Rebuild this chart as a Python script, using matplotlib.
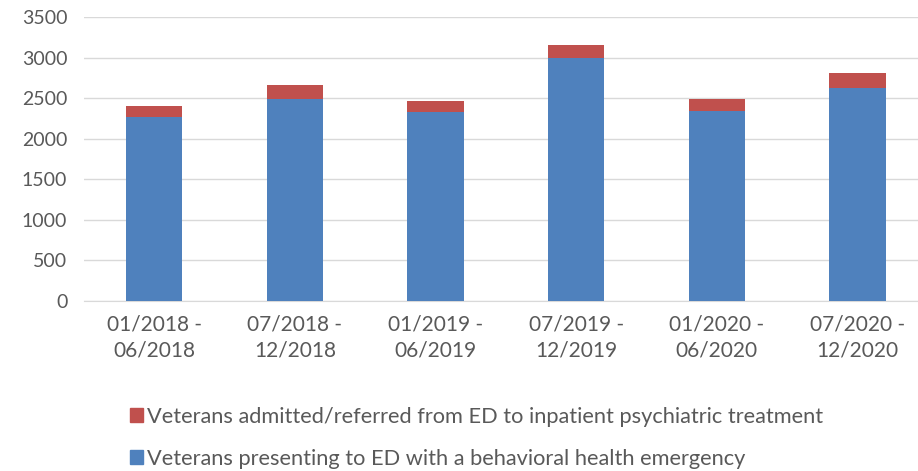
import matplotlib.pyplot as plt
from matplotlib.patches import Patch

periods = ["01/2018 -\n06/2018", "07/2018 -\n12/2018", "01/2019 -\n06/2019",
           "07/2019 -\n12/2019", "01/2020 -\n06/2020", "07/2020 -\n12/2020"]
presenting = [2265, 2490, 2330, 2990, 2345, 2620]
admitted = [140, 173, 136, 166, 147, 189]

blue = '#4F81BD'
red = '#C0504D'

plt.rcParams['font.family'] = ['Lato', 'DejaVu Sans']

fig = plt.figure(figsize=(9.18, 4.71), dpi=100)
W, H = 918, 471
ax = fig.add_axes([84 / W, 1 - 301 / H, (918 - 84) / W, (301 - 17) / H])

x = list(range(len(periods)))
ax.bar(x, presenting, width=0.4, color=blue, zorder=3)
ax.bar(x, admitted, width=0.4, bottom=presenting, color=red, zorder=3)

ax.set_xlim(-0.5, 5.43)
ax.set_ylim(0, 3500)
ax.set_yticks(range(0, 3501, 500))
ax.yaxis.grid(True, color='#D9D9D9', linewidth=1, zorder=0)
for s in ['top', 'right', 'left']:
    ax.spines[s].set_visible(False)
ax.spines['bottom'].set_color('#D9D9D9')
ax.tick_params(axis='both', length=0, colors='#595959', labelsize=14)
ax.tick_params(axis='y', pad=12)
ax.tick_params(axis='x', pad=10)
ax.set_xticks(x)
ax.set_xticklabels(periods, fontsize=15, linespacing=1.35)

handles = [Patch(color=red), Patch(color=blue)]
labels = ["Veterans admitted/referred from ED to inpatient psychiatric treatment",
          "Veterans presenting to ED with a behavioral health emergency"]
fig.legend(handles, labels, loc='upper left', bbox_to_anchor=(119 / W, 1 - 396 / H),
           frameon=False, fontsize=15.7, labelcolor='#595959', handlelength=0.6,
           handleheight=0.6, handletextpad=0.2, labelspacing=1.0, borderpad=0)

fig.savefig('out.png', dpi=100)
